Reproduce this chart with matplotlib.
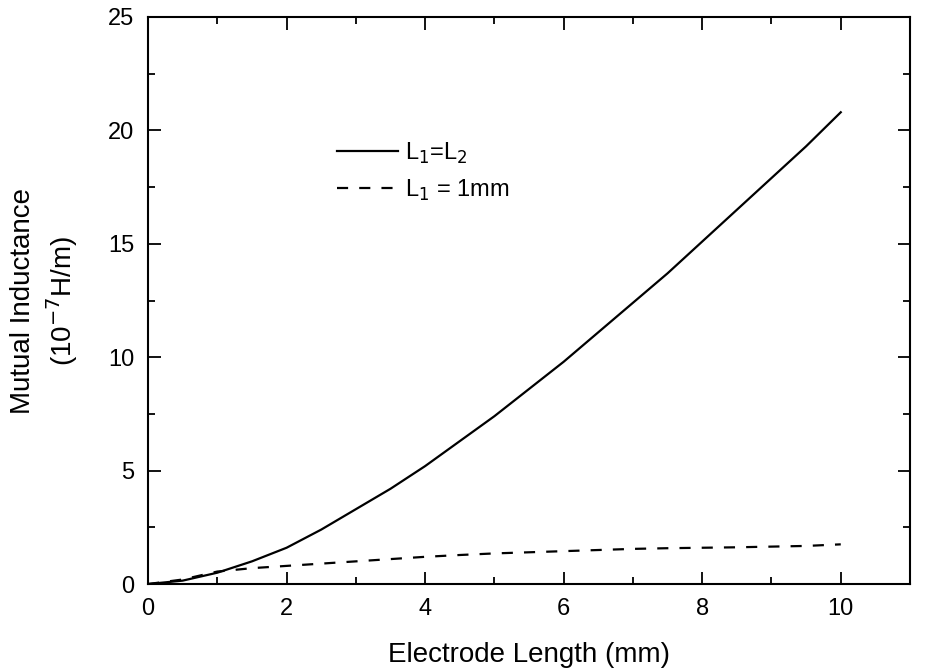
import numpy as np
import matplotlib.pyplot as plt
from matplotlib.ticker import MultipleLocator

plt.rcParams['font.family'] = ['Liberation Sans', 'DejaVu Sans']

# values
length_mm = [0, 0.5, 1, 1.5, 2, 2.5, 3, 3.5, 4, 4.5, 5, 5.5, 6, 6.5, 7, 7.5, 8, 8.5, 9, 9.5, 10]
m_equal = [0, 0.15, 0.5, 1.0, 1.6, 2.4, 3.3, 4.2, 5.2, 6.3, 7.4, 8.6, 9.8, 11.1, 12.4, 13.7, 15.1, 16.5, 17.9, 19.3, 20.8]
m_1mm = [0, 0.2, 0.55, 0.7, 0.8, 0.9, 1.0, 1.1, 1.2, 1.28, 1.35, 1.4, 1.45, 1.5, 1.55, 1.58, 1.6, 1.62, 1.65, 1.68, 1.75]

fig = plt.figure(figsize=(9.27, 6.69), dpi=100)
ax = fig.add_axes([0.1597, 0.127, 0.822, 0.8476])

ax.plot(length_mm, m_equal, color='black', lw=1.6, label='L$_1$=L$_2$')
ax.plot(length_mm, m_1mm, color='black', lw=1.6, ls=(0, (5, 5)), label='L$_1$ = 1mm')

ax.set_xlim(0, 11)
ax.set_ylim(0, 25)
ax.xaxis.set_major_locator(MultipleLocator(2))
ax.xaxis.set_minor_locator(MultipleLocator(1))
ax.yaxis.set_major_locator(MultipleLocator(5))
ax.yaxis.set_minor_locator(MultipleLocator(2.5))
ax.tick_params(which='both', direction='in', top=True, right=True, width=1.3)
ax.tick_params(which='major', length=9, labelsize=17, pad=10)
ax.tick_params(which='minor', length=5)
for s in ax.spines.values():
    s.set_linewidth(1.5)

ax.set_xlabel('Electrode Length (mm)', fontsize=20, labelpad=16)
ax.set_ylabel('Mutual Inductance\n(10$^{-7}$H/m)', fontsize=20, labelpad=20, linespacing=1.3)

ax.legend(loc='upper left', bbox_to_anchor=(0.22, 0.82), frameon=False, fontsize=17,
          handlelength=2.6, handletextpad=0.3, labelspacing=0.5)

fig.savefig('out.png', dpi=100)
